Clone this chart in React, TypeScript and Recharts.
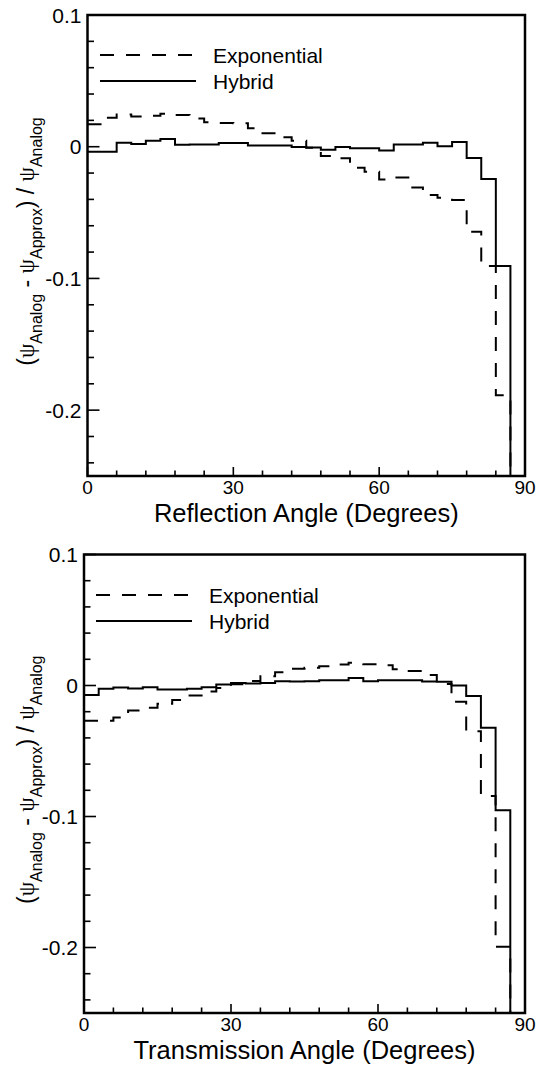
import React from "react";
import { Legend, Line, LineChart, ReferenceArea, XAxis, YAxis } from "recharts";

// bin edges (degrees); each series value holds for [edge, edge + 3)
const angleEdges = [0, 3, 6, 9, 12, 15, 18, 21, 24, 27, 30, 33, 36, 39, 42, 45, 48, 51, 54, 57, 60, 63, 66, 69, 72, 75, 78, 81, 84, 87, 90];

const reflExponential = [
  0.017, 0.022, 0.0245, 0.023, 0.0235, 0.025, 0.024, 0.0215, 0.0185, 0.018,
  0.0178, 0.014, 0.0102, 0.0071, 0.0045, -0.0008, -0.007, -0.0088, -0.016, -0.019,
  -0.0248, -0.0233, -0.031, -0.0367, -0.0388, -0.0405, -0.0645, -0.0905, -0.1886, -0.5
];
const reflHybrid = [
  -0.0038, -0.0038, 0.003, 0.002, 0.0045, 0.0058, 0.0015, 0.0016, 0.0016, 0.0028,
  0.0028, 0.001, 0.001, 0.001, -0.0003, -0.0006, -0.0023, -0.0002, -0.0011, -0.0011,
  -0.0028, 0.0016, 0.0016, 0.003, 0.0003, 0.0035, -0.0085, -0.0246, -0.0906, -0.5
];
const transExponential = [
  -0.027, -0.027, -0.0245, -0.019, -0.017, -0.014, -0.011, -0.0076, -0.0045, -0.002,
  0.001, 0.0035, 0.0071, 0.0101, 0.0127, 0.0135, 0.0147, 0.016, 0.0173, 0.0162,
  0.0155, 0.0125, 0.011, 0.008, 0.0012, -0.0124, -0.035, -0.0843, -0.1995, -0.5
];
const transHybrid = [
  -0.0072, -0.0025, -0.0015, -0.0022, -0.0013, -0.003, -0.003, -0.0025, -0.0013, 0.0008,
  0.002, 0.0015, 0.002, 0.0033, 0.003, 0.0033, 0.004, 0.004, 0.0058, 0.0033,
  0.004, 0.004, 0.004, 0.003, 0.0028, 0, -0.0081, -0.0322, -0.0952, -0.5
];

const xTicks = [0, 6, 12, 18, 24, 30, 36, 42, 48, 54, 60, 66, 72, 78, 84, 90];
const xMajor = [0, 30, 60, 90];
const yTicks = [-0.24, -0.22, -0.2, -0.18, -0.16, -0.14, -0.12, -0.1, -0.08, -0.06, -0.04, -0.02, 0, 0.02, 0.04, 0.06, 0.08, 0.1];
const yMajor = [-0.2, -0.1, 0, 0.1];
const seriesNames = ["Exponential", "Hybrid"];

const FONT = "'Liberation Sans', Arial, Helvetica, sans-serif";
const DASH = "14 12";

function buildSteps(exp: number[], hyb: number[]) {
  return angleEdges.map((angle, i) => {
    const k = Math.min(i, exp.length - 1);
    return { angle, exp: exp[k], hyb: hyb[k] };
  });
}

const XTick = (props: any) => {
  const { x, y, payload } = props;
  const major = xMajor.includes(payload.value);
  return (
    <g>
      <line x1={x} x2={x} y1={y} y2={y - (major ? 9 : 5.5)} stroke="#000" strokeWidth={1.6} />
      {major && (
        <text x={x} y={y + 4} dy="0.72em" textAnchor="middle" fontSize={19} fontFamily={FONT} fill="#000">
          {payload.value}
        </text>
      )}
    </g>
  );
};

const YTick = (props: any) => {
  const { x, y, payload } = props;
  const major = yMajor.includes(payload.value);
  return (
    <g>
      <line x1={x} x2={x + (major ? 12 : 6.5)} y1={y} y2={y} stroke="#000" strokeWidth={1.6} />
      {major && (
        <text x={x - 6} y={y} dy="0.36em" textAnchor="end" fontSize={21} fontFamily={FONT} fill="#000">
          {String(payload.value)}
        </text>
      )}
    </g>
  );
};

const xTitle = (text: string) => (props: any) => {
  const { viewBox } = props;
  return (
    <text x={viewBox.x + viewBox.width / 2} y={viewBox.y + 46} textAnchor="middle" fontSize={25.5} fontFamily={FONT} fill="#000">
      {text}
    </text>
  );
};

const yTitle = (props: any) => {
  const { viewBox } = props;
  const cx = 34;
  const cy = viewBox.y + viewBox.height / 2 - 4;
  const psi = { fontFamily: "'Liberation Serif', 'DejaVu Serif', serif" };
  return (
    <text
      x={cx}
      y={cy}
      transform={`rotate(-90 ${cx} ${cy})`}
      textAnchor="middle"
      fontSize={23}
      fontFamily={FONT}
      fill="#000"
      style={{ whiteSpace: "pre" }}
    >
      <tspan>(</tspan>
      <tspan {...psi}>ψ</tspan>
      <tspan fontSize={16} dy={8}>Analog</tspan>
      <tspan dy={-8}> - </tspan>
      <tspan {...psi}>ψ</tspan>
      <tspan fontSize={16} dy={8}>Approx</tspan>
      <tspan dy={-8}>) / </tspan>
      <tspan {...psi}>ψ</tspan>
      <tspan fontSize={16} dy={8}>Analog</tspan>
    </text>
  );
};

const legendDash = [DASH, undefined];

const renderLegend = () => (
  <svg width={240} height={60} style={{ display: "block", overflow: "visible" }}>
    {seriesNames.map((name, i) => (
      <g key={name}>
        <line x1={0} x2={96} y1={15 + i * 26} y2={15 + i * 26} stroke="#000" strokeWidth={2} strokeDasharray={legendDash[i]} />
        <text x={113} y={15 + i * 26 + 7.5} fontSize={21} fontFamily={FONT} fill="#000">
          {name}
        </text>
      </g>
    ))}
  </svg>
);

type PanelProps = {
  exp: number[];
  hyb: number[];
  title: string;
  margin: { top: number; right: number; bottom: number; left: number };
};

function Panel({ exp, hyb, title, margin }: PanelProps) {
  const data = buildSteps(exp, hyb);
  const plotLeft = margin.left + 60;
  return (
    <LineChart width={538} height={534} data={data} margin={margin}>
      <XAxis
        dataKey="angle"
        type="number"
        domain={[0, 90]}
        ticks={xTicks}
        interval={0}
        axisLine={false}
        tickLine={false}
        tickSize={0}
        tickMargin={0}
        tick={<XTick />}
        height={30}
        label={xTitle(title)}
      />
      <YAxis
        type="number"
        domain={[-0.25, 0.1]}
        ticks={yTicks}
        interval={0}
        allowDataOverflow
        axisLine={false}
        tickLine={false}
        tickSize={0}
        tickMargin={0}
        tick={<YTick />}
        width={60}
        label={yTitle}
      />
      <ReferenceArea x1={0} x2={90} y1={-0.25} y2={0.1} fill="none" stroke="#000" strokeWidth={2.5} ifOverflow="visible" />
      <Line type="stepAfter" dataKey="exp" name={seriesNames[0]} stroke="#000" strokeWidth={2} strokeDasharray={DASH} dot={false} isAnimationActive={false} />
      <Line type="stepAfter" dataKey="hyb" name={seriesNames[1]} stroke="#000" strokeWidth={2} dot={false} isAnimationActive={false} />
      <Legend
        layout="horizontal"
        verticalAlign="middle"
        align="center"
        content={renderLegend}
        wrapperStyle={{ left: plotLeft + 12, top: margin.top + 25, width: 240, height: 60 }}
      />
    </LineChart>
  );
}

export default function App() {
  return (
    <div style={{ position: "absolute", left: 0, top: 0, width: 538, height: 1068, background: "#fff" }}>
      <Panel exp={reflExponential} hyb={reflHybrid} title="Reflection Angle (Degrees)" margin={{ top: 15, right: 13, bottom: 28, left: 27.5 }} />
      <Panel exp={transExponential} hyb={transHybrid} title="Transmission Angle (Degrees)" margin={{ top: 20.5, right: 13, bottom: 25, left: 24 }} />
    </div>
  );
}
